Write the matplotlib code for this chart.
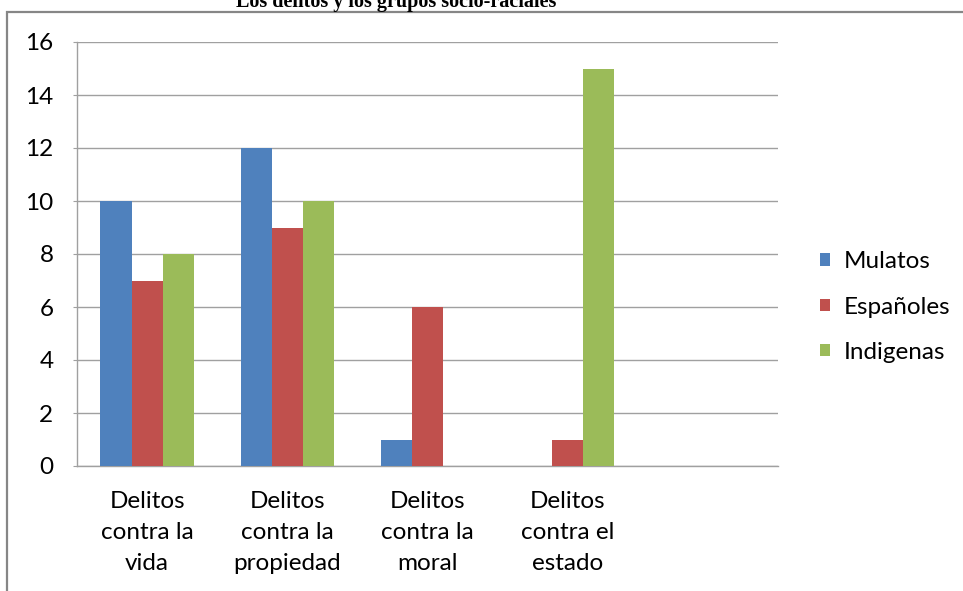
import matplotlib
matplotlib.use("Agg")
import matplotlib.pyplot as plt
import numpy as np
from matplotlib.patches import Rectangle, Patch

title = "Los delitos y los grupos socio-raciales"
categories = ["Delitos\ncontra la\nvida", "Delitos\ncontra la\npropiedad",
              "Delitos\ncontra la\nmoral", "Delitos\ncontra el\nestado", ""]
series_names = ["Mulatos", "Españoles", "Indigenas"]
mulatos = [10, 12, 1, 0, 0]
espanoles = [7, 9, 6, 1, 0]
indigenas = [8, 10, 0, 15, 0]
yticks = [0, 2, 4, 6, 8, 10, 12, 14, 16]

colors = ["#4F81BD", "#C0504D", "#9BBB59"]
W, H = 963, 591
fig = plt.figure(figsize=(W / 100, H / 100), dpi=100)
fig.patch.set_facecolor("white")

# chart border (cropped at right/bottom)
fig.patches.append(Rectangle((7 / W, -0.1), 1.2, 1 - 12 / H + 0.1,
                             transform=fig.transFigure, fill=False,
                             edgecolor="#868686", linewidth=1.6))

fig.text(396 / W, 1 - 7 / H, title, ha="center", va="baseline",
         family="Liberation Serif", fontweight="bold", fontsize=14.5)

ax = fig.add_axes([77 / W, 1 - 466 / H, (778 - 77) / W, (466 - 42) / H])
x = np.arange(len(categories))
bw = 0.222
for i, (vals, c) in enumerate(zip([mulatos, espanoles, indigenas], colors)):
    ax.bar(x + (i - 1) * bw, vals, width=bw, color=c, zorder=3, linewidth=0)

fs = 17.5
ax.set_xlim(-0.5, len(categories) - 0.5)
ax.set_ylim(0, 16)
ax.set_yticks(yticks)
ax.set_yticklabels([str(v) for v in yticks], family="Lato", fontsize=fs)
ax.set_xticks(x)
ax.set_xticklabels(categories, family="Lato", fontsize=fs, linespacing=1.6)
ax.tick_params(axis="x", length=0, pad=18)
ax.tick_params(axis="y", length=3, color="#A0A0A0", pad=14)
ax.grid(axis="y", color="#A0A0A0", linewidth=1.0, zorder=0)
for s in ["top", "right"]:
    ax.spines[s].set_visible(False)
for s in ["left", "bottom"]:
    ax.spines[s].set_color("#A0A0A0")
    ax.spines[s].set_linewidth(1.0)

handles = [Patch(facecolor=c, edgecolor="none") for c in colors]
fig.legend(handles, series_names, loc="center left",
           bbox_to_anchor=(820 / W, 1 - 307 / H), frameon=False,
           prop={"family": "Lato", "size": fs}, handlelength=0.42,
           handleheight=0.42, handletextpad=0.55, labelspacing=1.0,
           borderpad=0, borderaxespad=0)

fig.savefig("out.png", dpi=100)
